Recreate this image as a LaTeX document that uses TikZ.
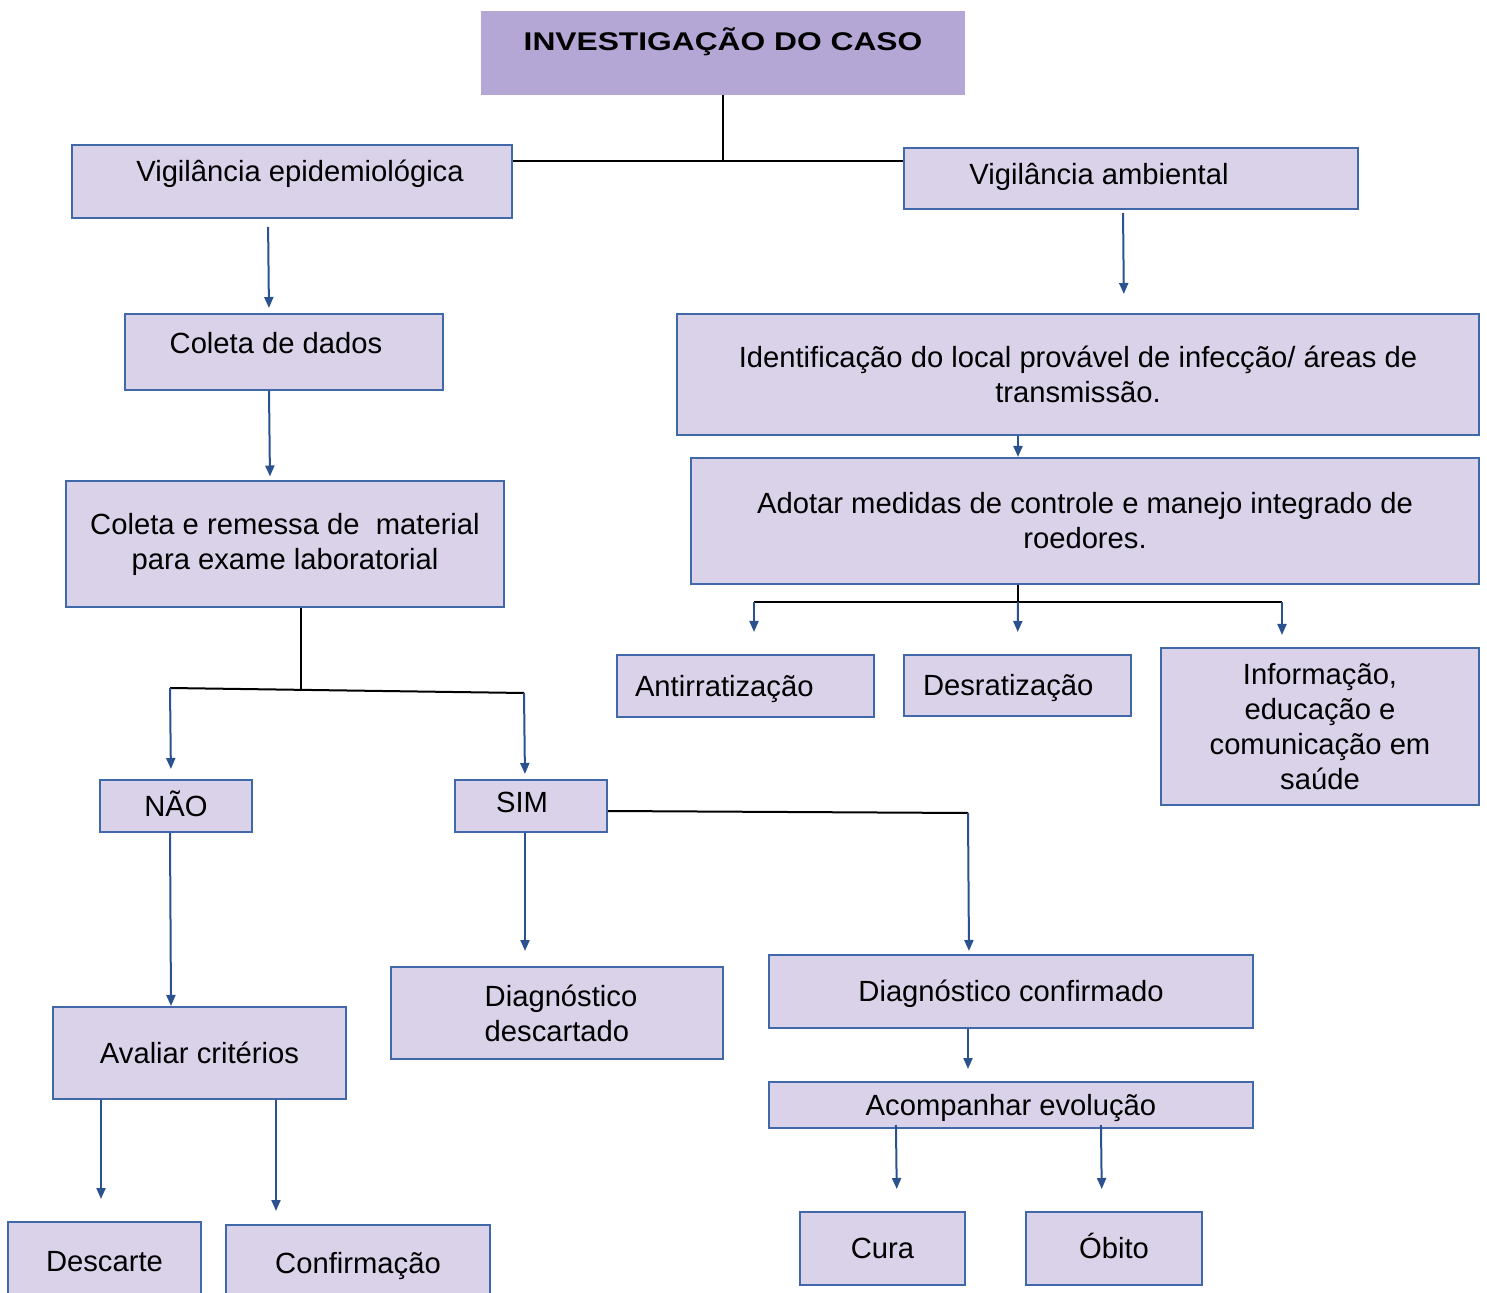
\documentclass[tikz,border=0pt]{standalone}
\usepackage{fontspec}
\setmainfont{Liberation Sans}
\newfontfamily\titulofonte[FakeStretch=1.24]{Liberation Sans}
\usetikzlibrary{arrows.meta}
\definecolor{lilas}{HTML}{D9D2E9}
\definecolor{lilasforte}{HTML}{B4A7D6}
\definecolor{borda}{HTML}{4169AA}
\definecolor{azulseta}{HTML}{2B528F}

\begin{document}
\begin{tikzpicture}[x=0.5pt,y=-0.5pt,
        caixa/.style={rectangle,draw=borda,fill=lilas,line width=1pt,inner sep=3pt,align=center,
          font=\fontsize{14.6}{17.5}\selectfont},
        linha/.style={text height=11pt,text depth=#1},linha/.default=0.6pt,
        cabeca/.style={rectangle,fill=lilasforte,font=\titulofonte\bfseries\fontsize{12.8}{15}\selectfont,
          text height=10pt,text depth=12.8pt},
        seta/.style={draw=azulseta,line width=1pt,-{Triangle[length=5.5pt,width=4.5pt]}},
        tronco/.style={draw=black,line width=1pt}]
      \useasboundingbox (0,0) rectangle (1487,1293);
      \clip (0,0) rectangle (1487,1293);
      \node [cabeca,minimum width=242pt,minimum height=42pt]       (titulo)     at (723,53)      {INVESTIGAÇÃO DO CASO};
      \node [caixa,linha=11.1pt,minimum width=220pt,minimum height=36.5pt] (vigepi) at (292,181.5) {\hspace*{8pt}Vigilância epidemiológica};
      \node [caixa,linha=5.1pt,minimum width=227pt,minimum height=30.5pt]  (vigamb) at (1131,178.5) {Vigilância ambiental\hspace*{32pt}};
      \node [caixa,linha=9.6pt,minimum width=159pt,minimum height=38pt]    (coleta) at (284,352)    {Coleta de dados\hspace*{8pt}};
      \node [caixa,minimum width=219pt,minimum height=63pt]        (remessa)    at (285,544.5)   {Coleta e remessa de~~material\\para exame laboratorial};
      \node [caixa,minimum width=401pt,minimum height=60.5pt]      (ident)      at (1078,374.5)  {Identificação do local provável de infecção/ áreas de\\transmissão.};
      \node [caixa,minimum width=394pt,minimum height=63pt]        (adotar)     at (1085,521)    {Adotar medidas de controle e manejo integrado de\\roedores.};
      \node [caixa,linha,align=left,text width=110.5pt,inner xsep=9pt,minimum height=31pt] (antirr) at (745.5,686) {Antirratização};
      \node [caixa,linha,align=left,text width=94.5pt,inner xsep=9.5pt,minimum height=30.5pt] (desrat) at (1017.5,685.5) {Desratização};
      \node [caixa,minimum width=159pt,minimum height=78.5pt]      (info)       at (1320,726.5)  {Informação,\\educação e\\comunicação em\\saúde};
      \node [caixa,linha,minimum width=76pt,minimum height=26pt]   (nao)        at (176,806)     {NÃO};
      \node [caixa,linha=4.6pt,minimum width=76pt,minimum height=26pt] (sim)    at (531,806)     {SIM\hspace*{9pt}};
      \node [caixa,align=left,minimum width=166pt,minimum height=46pt] (descartado) at (557,1013) {\hspace*{4pt}Diagnóstico\\\hspace*{4pt}descartado};
      \node [caixa,linha,minimum width=242pt,minimum height=36.5pt] (diagconf)  at (1011,991.5)  {Diagnóstico confirmado};
      \node [caixa,linha,minimum width=242pt,minimum height=23pt]  (acomp)      at (1011,1105)   {Acompanhar evolução};
      \node [caixa,linha,minimum width=146.5pt,minimum height=46pt] (avaliar)   at (199.5,1053)  {Avaliar critérios};
      \node [caixa,linha,minimum width=96.5pt,minimum height=39pt] (descarte)   at (104.5,1261)  {Descarte};
      \node [caixa,linha,minimum width=132pt,minimum height=38pt]  (confirma)   at (358,1263)    {Confirmação};
      \node [caixa,linha,minimum width=82.5pt,minimum height=36.5pt] (cura)     at (882.5,1248.5) {Cura};
      \node [caixa,linha,minimum width=88pt,minimum height=36.5pt] (obito)      at (1114,1248.5) {Óbito};
      \coordinate (ramo1)  at (723,161);
      \coordinate (ramo2)  at (301,690);
      \coordinate (ramo2e) at (170,688);
      \coordinate (ramo2d) at (524,693);
      \coordinate (ramo3)  at (968,813);
      \coordinate (ramo4)  at (1018,602);
      \coordinate (ramo4e) at (754,602);
      \coordinate (ramo4d) at (1282,602);
      \draw[tronco] (titulo.south) -- (ramo1);
      \draw[tronco] (vigepi.east |- ramo1) -- (vigamb.west |- ramo1);
      \draw[tronco] ([xshift=8pt]remessa.south) -- (ramo2);
      \draw[tronco] (ramo2e) -- (ramo2d);
      \draw[tronco] ([yshift=-2.5pt]sim.east) -- (ramo3);
      \draw[tronco] ([xshift=-33.5pt]adotar.south) -- (ramo4);
      \draw[tronco] (ramo4e) -- (ramo4d);
      \path[every edge/.append style={seta}]
      ([xshift=-12pt]vigepi.south) edge [shorten <=4pt,shorten >=2.5pt] ([xshift=-7.5pt]coleta.north)
      ([xshift=-7.5pt]coleta.south) edge [shorten >=2pt] ([xshift=-7.5pt]remessa.north)
      (ramo2e) edge [shorten >=5pt] ([xshift=-2.5pt]nao.north)
      (ramo2d) edge [shorten >=2.5pt] ([xshift=-3pt]sim.north)
      ([xshift=-3pt]nao.south) edge ([xshift=-14.25pt]avaliar.north)
      ([xshift=-3pt]sim.south) edge [shorten >=7.5pt] ([xshift=-16pt]descartado.north)
      (ramo3) edge [shorten >=1.5pt] ([xshift=-21pt]diagconf.north)
      ([xshift=-21.5pt]diagconf.south) edge [shorten >=6pt] ([xshift=-21.5pt]acomp.north)
      ([xshift=-57.5pt]acomp.south) edge [shorten <=-2pt,shorten >=11pt] ([xshift=7.25pt]cura.north)
      ([xshift=45pt]acomp.south) edge [shorten <=-2pt,shorten >=11pt] ([xshift=-6pt]obito.north)
      ([xshift=-49.25pt]avaliar.south) edge [shorten >=11pt] ([xshift=-1.75pt]descarte.north)
      ([xshift=38.25pt]avaliar.south) edge [shorten >=6.5pt] ([xshift=-41pt]confirma.north)
      ([xshift=-4pt]vigamb.south) edge [shorten <=1.5pt,shorten >=9.5pt] ([xshift=23pt]ident.north)
      ([xshift=-30pt]ident.south) edge ([xshift=-33.5pt]adotar.north)
      (ramo4e) edge [shorten >=11pt] ([xshift=4.25pt]antirr.north)
      (ramo4) edge [shorten >=11pt] (desrat.north)
      (ramo4d) edge [shorten >=6pt] ([xshift=-19pt]info.north);
    \end{tikzpicture}
\end{document}
